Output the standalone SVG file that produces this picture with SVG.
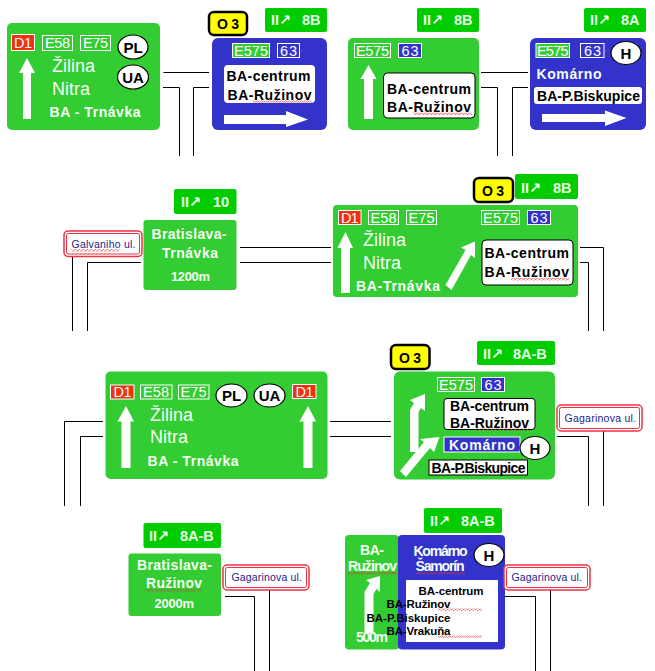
<svg xmlns="http://www.w3.org/2000/svg" width="655" height="671" viewBox="0 0 655 671">
<style>
text{font-family:"Liberation Sans",Arial,sans-serif}
.g{fill:#33cc33}.bl{fill:#3333cc}
.tag{fill:#00cc00}
.o3{fill:#ffff00;stroke:#000;stroke-width:2.5}
.o3t{font-size:14px;font-weight:bold;fill:#000}
.tt{font-size:14.5px;font-weight:bold;fill:#e8ffe8;font-family:"Liberation Sans","DejaVu Sans",sans-serif}
.road{font-size:14.5px;fill:#fff}
.rb{stroke:#fff;stroke-width:1}
.r{fill:#ee3311}.eg{fill:#33cc33}.eb{fill:#3333cc}
.city{font-size:18px;fill:#f4fff4}
.wb{font-size:14px;font-weight:bold;fill:#f4fff4}
.kb{font-size:14px;font-weight:bold;fill:#000}
.sm{font-size:11.5px;font-weight:bold;fill:#000}
.box{fill:#fff}.boxk{fill:#fff;stroke:#000;stroke-width:1}
.ov{fill:#fff;stroke:#000;stroke-width:1.2}
.ovt{font-size:15px;font-weight:bold;fill:#000;text-anchor:middle}
.arr{fill:#fff}
.st{fill:none;stroke:#fff}
.sq{fill:url(#sq)}
.out{fill:#fff;stroke:#ee3344;stroke-width:1.5}
.inn{fill:#fff;stroke:#ee3344;stroke-width:1}
.lab{font-size:10.5px;fill:#22228a}
#connectors path{fill:none;stroke:#000;stroke-width:1}
</style>
<defs>
<pattern id="sq" width="4" height="2.5" patternUnits="userSpaceOnUse"><path d="M0 2L1 .5L2 .5L3 2L4 2" fill="none" stroke="#dd3333" stroke-width=".7"/></pattern>
</defs>
<rect width="655" height="671" fill="#fff"/>
<g id="connectors">
<path d="M163.500 72.500H209M163 87.500H179.500V156M209 87.500H193.500V156"/>
<path d="M481 72.500H528M481 87.500H497.500V156M528 87.500H512.500V156"/>
<path d="M240 247.500H331M240 262.500H331M141 262.500H87.500V331M72.500 255V331"/>
<path d="M580 247.500H603.500V331M580 262.500H588.500V331"/>
<path d="M103 421.500H64.500V506M103 436.500H80.500V506"/>
<path d="M330 421.500H391M330 436.500H391"/>
<path d="M557 436.500H588.500V506M603.500 431V506"/>
<path d="M225 596.500H254.500V671M269.500 589V671"/>
<path d="M505 596.500H535.500V671M550.500 589V671"/>
</g>

<g id="sign-1">
<rect class="g" x="7" y="23" width="153" height="107" rx="5"/>
<rect class="r rb" x="11.500" y="34.500" width="23" height="16"/><text class="road" x="14" y="48" textLength="18">D1</text>
<rect class="eg rb" x="42.500" y="35.500" width="30" height="15"/><text class="road" x="45" y="48" textLength="25">E58</text>
<rect class="eg rb" x="80.500" y="35.500" width="30" height="15"/><text class="road" x="83" y="48" textLength="25">E75</text>
<ellipse class="ov" cx="133" cy="47" rx="15" ry="12"/><text class="ovt" x="133" y="52.500">PL</text>
<ellipse class="ov" cx="133" cy="77" rx="15.500" ry="12"/><text class="ovt" x="133" y="82.500">UA</text>
<path class="arr" d="M27 58L35 73H31V119H23V73H19Z"/>
<text class="city" x="52" y="72">Žilina</text>
<text class="city" x="52" y="95">Nitra</text>
<text class="wb" x="49.500" y="117" textLength="91">BA - Trnávka</text>
</g>

<g id="sign-2">
<rect class="o3" x="209" y="12" width="38" height="23" rx="5"/><text class="o3t" x="217" y="29" textLength="22">O 3</text>
<rect class="tag" x="265" y="8" width="62" height="24" rx="2"/><text class="tt"><tspan x="271" y="25">II↗</tspan><tspan x="302" y="25">8B</tspan></text>
<rect class="bl" x="212" y="38" width="115" height="92" rx="6"/>
<rect class="eg rb" x="232.500" y="43.500" width="37" height="14"/><text class="road" x="234" y="55.500" textLength="34">E575</text>
<rect class="eb rb" x="277.500" y="43.500" width="22" height="14"/><text class="road" x="280" y="55.500" textLength="17">63</text>
<rect class="box" x="224" y="65" width="91" height="38" rx="4"/>
<text class="kb" x="226.500" y="81" textLength="84">BA-centrum</text>
<text class="kb" x="227.500" y="100" textLength="84">BA-Ružinov</text>
<rect class="sq" x="253" y="100.500" width="59" height="2.500"/>
<path class="arr" d="M224 115H286V111L308 119.500L286 127V124H224Z"/>
</g>

<g id="sign-3">
<rect class="tag" x="417" y="8" width="62" height="24" rx="2"/><text class="tt"><tspan x="423" y="25">II↗</tspan><tspan x="454" y="25">8B</tspan></text>
<rect class="g" x="348" y="38" width="131" height="92" rx="5"/>
<rect class="eg rb" x="354.500" y="43.500" width="36" height="14"/><text class="road" x="356" y="55.500" textLength="33">E575</text>
<rect class="eb rb" x="398.500" y="43.500" width="23" height="14"/><text class="road" x="401.500" y="55.500" textLength="17">63</text>
<path class="arr" d="M368.500 65L376.500 79H373V119H364V79H360.500Z"/>
<rect class="boxk" x="383.500" y="73" width="91.500" height="45" rx="4"/>
<text class="kb" x="387" y="94" textLength="84">BA-centrum</text>
<text class="kb" x="387" y="112" textLength="84">BA-Ružinov</text>
<rect class="sq" x="413" y="112.500" width="59" height="2.500"/>
</g>

<g id="sign-4">
<rect class="tag" x="584" y="8" width="62" height="24" rx="2"/><text class="tt"><tspan x="590" y="25">II↗</tspan><tspan x="621" y="25">8A</tspan></text>
<rect class="bl" x="530" y="38" width="116" height="92" rx="6"/>
<rect class="eg rb" x="536" y="43.500" width="33.500" height="14"/><text class="road" x="537" y="55.500" textLength="31.500">E575</text>
<rect class="eb rb" x="580.500" y="43.500" width="23.500" height="14"/><text class="road" x="584" y="55.500" textLength="17">63</text>
<ellipse class="ov" cx="626" cy="53" rx="15" ry="11.500"/><text class="ovt" x="626" y="59">H</text>
<text class="wb" x="536.500" y="79" textLength="65">Komárno</text>
<rect class="box" x="534" y="87" width="108" height="17" rx="3"/>
<text class="kb" x="537" y="101" textLength="103">BA-P.Biskupice</text>
<path class="arr" d="M542 114H605V110.500L626.500 118L605 126V122H542Z"/>
</g>

<g id="sign-5">
<rect class="tag" x="174" y="189" width="62.500" height="25" rx="2"/><text class="tt"><tspan x="181" y="207">II↗</tspan><tspan x="213" y="207">10</tspan></text>
<rect class="g" x="143.500" y="220" width="93" height="70" rx="3"/>
<text class="wb" x="151.500" y="239" textLength="75">Bratislava-</text>
<text class="wb" x="162" y="258" textLength="56">Trnávka</text>
<text class="wb" style="font-size:13px" x="171" y="281" textLength="39">1200m</text>
</g>

<g id="label-galvaniho">
<rect class="out" x="64" y="231" width="78" height="25.500" rx="4"/>
<rect class="inn" x="66.500" y="233.500" width="73" height="20.500" rx="2"/>
<text class="lab" x="71.500" y="248" textLength="64">Galvaniho ul.</text>
<rect class="sq" x="71.500" y="249" width="48" height="2.500"/>
</g>

<g id="sign-6">
<rect class="o3" x="474" y="178" width="39" height="24" rx="5"/><text class="o3t" x="482" y="196" textLength="22">O 3</text>
<rect class="tag" x="515" y="174" width="63" height="25" rx="2"/><text class="tt"><tspan x="521" y="193">II↗</tspan><tspan x="553" y="193">8B</tspan></text>
<rect class="g" x="333" y="205" width="245" height="92" rx="4"/>
<rect class="r rb" x="338.500" y="210.500" width="22.500" height="14"/><text class="road" x="341" y="223" textLength="17.500">D1</text>
<rect class="eg rb" x="368.500" y="210.500" width="30" height="14"/><text class="road" x="370.500" y="223" textLength="26">E58</text>
<rect class="eg rb" x="406.500" y="210.500" width="30" height="14"/><text class="road" x="408.500" y="223" textLength="26">E75</text>
<rect class="eg rb" x="481.500" y="210.500" width="38" height="14"/><text class="road" x="483" y="223" textLength="35">E575</text>
<rect class="eb rb" x="527.500" y="210.500" width="23" height="14"/><text class="road" x="530.500" y="223" textLength="17">63</text>
<path class="arr" d="M345.500 232L353 248H350V293H341V248H337.500Z"/>
<text class="city" x="363" y="246">Žilina</text>
<text class="city" x="363" y="269">Nitra</text>
<text class="wb" x="356" y="291" textLength="84">BA-Trnávka</text>
<path class="arr" d="M445.500 285L465.500 250L461 247.500L475 241.500L475 258L471 255L451.500 290Z"/>
<rect class="boxk" x="482" y="240" width="91" height="45" rx="4"/>
<text class="kb" x="484.500" y="258" textLength="84.500">BA-centrum</text>
<text class="kb" x="484.500" y="277" textLength="84.500">BA-Ružinov</text>
<rect class="sq" x="511" y="278" width="58" height="2.500"/>
</g>

<g id="sign-7">
<rect class="g" x="105.500" y="371.500" width="222" height="107.500" rx="5"/>
<rect class="r rb" x="110.500" y="385" width="23.500" height="14"/><text class="road" x="113.500" y="397" textLength="18">D1</text>
<rect class="eg rb" x="140.500" y="385" width="31.500" height="14"/><text class="road" x="143" y="397" textLength="26">E58</text>
<rect class="eg rb" x="178.500" y="385" width="30.500" height="14"/><text class="road" x="180.500" y="397" textLength="26">E75</text>
<ellipse class="ov" cx="231.500" cy="395.500" rx="15.500" ry="11.500"/><text class="ovt" x="231.500" y="401">PL</text>
<ellipse class="ov" cx="269.500" cy="395.500" rx="15.500" ry="11.500"/><text class="ovt" x="269.500" y="401">UA</text>
<rect class="r rb" x="292.500" y="384.500" width="23.500" height="14"/><text class="road" x="295.500" y="396.500" textLength="18">D1</text>
<path class="arr" d="M126 406L134 421.500H130.500V468H121.500V421.500H117.500Z"/>
<path class="arr" d="M308 406L316 421.500H312.500V468H303.500V421.500H299.500Z"/>
<text class="city" x="150" y="421">Žilina</text>
<text class="city" x="150" y="443">Nitra</text>
<text class="wb" x="147.500" y="466" textLength="91">BA - Trnávka</text>
</g>

<g id="sign-8">
<rect class="o3" x="391" y="345" width="38.500" height="24" rx="5"/><text class="o3t" x="399" y="362.500" textLength="22">O 3</text>
<rect class="tag" x="477" y="341" width="78" height="24" rx="2"/><text class="tt"><tspan x="483" y="359">II↗</tspan><tspan x="513" y="359">8A-B</tspan></text>
<rect class="g" x="394" y="371.500" width="161" height="108" rx="6"/>
<rect class="eg rb" x="437.500" y="377.500" width="37" height="14"/><text class="road" x="439" y="389.500" textLength="34">E575</text>
<rect class="eb rb" x="481.500" y="377.500" width="23" height="14"/><text class="road" x="484.500" y="389.500" textLength="17">63</text>
<path class="arr" d="M425 394L425 411L421 408L418.500 412V452H410V410L414 403L410 400Z"/>
<path class="arr" d="M439.500 437L434 452L430 448L406 477L400 471L424 442L420 439Z"/>
<rect class="boxk" x="444" y="398.500" width="91" height="31" rx="3"/>
<text class="kb" x="450" y="411" textLength="79">BA-centrum</text>
<text class="kb" x="450" y="428" textLength="79">BA-Ružinov</text>
<rect class="sq" x="475" y="428.500" width="55" height="2.500"/>
<rect class="eb" x="444" y="437" width="76" height="15" stroke="#fff" stroke-width="1"/>
<text class="wb" x="449" y="450" textLength="66">Komárno</text>
<ellipse class="ov" cx="535" cy="448" rx="15" ry="11.500"/><text class="ovt" x="535" y="454">H</text>
<rect class="boxk" x="429" y="460" width="98.500" height="15"/>
<text class="kb" x="431.500" y="473" textLength="94">BA-P.Biskupice</text>
</g>

<g id="label-gagarinova-1">
<rect class="out" x="557" y="405" width="85" height="26" rx="4"/>
<rect class="inn" x="559.500" y="407.500" width="80" height="21" rx="2"/>
<text class="lab" x="564.500" y="422" textLength="71.500">Gagarinova ul.</text>
</g>

<g id="sign-9">
<rect class="tag" x="143.500" y="523" width="77.500" height="25" rx="2"/><text class="tt"><tspan x="149" y="541">II↗</tspan><tspan x="180" y="541">8A-B</tspan></text>
<rect class="g" x="128.500" y="553.500" width="92.500" height="62.500" rx="3"/>
<text class="wb" x="137" y="570" textLength="75">Bratislava-</text>
<text class="wb" x="146" y="588" textLength="56">Ružinov</text>
<rect class="sq" x="145" y="589" width="57" height="2.500"/>
<text class="wb" style="font-size:13px" x="154.500" y="608" textLength="39.500">2000m</text>
</g>

<g id="label-gagarinova-2">
<rect class="out" x="223" y="565" width="86" height="25" rx="4"/>
<rect class="inn" x="225.500" y="567.500" width="81" height="20" rx="2"/>
<text class="lab" x="231.500" y="581" textLength="70.500">Gagarinova ul.</text>
</g>

<g id="sign-10">
<rect class="tag" x="424" y="508" width="78" height="25" rx="2"/><text class="tt"><tspan x="430" y="526">II↗</tspan><tspan x="461" y="526">8A-B</tspan></text>
<rect class="g" x="345" y="535" width="54" height="114.500" rx="4"/>
<rect class="bl" x="398" y="535" width="107" height="114.500" rx="4"/>
<text class="wb" x="360" y="555" textLength="24">BA-</text>
<text class="wb" x="348" y="571" textLength="49">Ružinov</text>
<rect class="sq" x="348" y="572" width="49" height="2.500"/>
<path class="arr" d="M380 576L380 592L376.500 589L373.500 594V633H364.500V592L370 583L366 580Z"/>
<text class="wb" x="356" y="642" textLength="32">500m</text>
<text class="wb" x="413.500" y="556" textLength="54">Komárno</text>
<text class="wb" x="415.500" y="571" textLength="49">Šamorín</text>
<rect class="sq" x="416" y="572" width="49" height="2.500"/>
<ellipse class="ov" cx="489" cy="555" rx="15" ry="11.500"/><text class="ovt" x="489" y="561">H</text>
<rect class="box" x="406" y="580" width="92" height="62"/>
<g text-anchor="middle">
<text class="sm" x="451" y="595" textLength="65" text-anchor="start" dx="-32.500">BA-centrum</text>
<text class="sm" x="418.500" y="608" textLength="64">BA-Ružinov</text>
<text class="sm" x="408.500" y="622" textLength="84">BA-P.Biskupice</text>
<text class="sm" x="418.500" y="635" textLength="64">BA-Vrakuňa</text>
</g>
<rect class="sq" x="438" y="608.500" width="44" height="2.500"/>
<rect class="sq" x="438" y="635.500" width="44" height="2.500"/>
</g>

<g id="label-gagarinova-3">
<rect class="out" x="504" y="565" width="86" height="25" rx="4"/>
<rect class="inn" x="506.500" y="567.500" width="81" height="20" rx="2"/>
<text class="lab" x="511.500" y="581" textLength="70.500">Gagarinova ul.</text>
</g>
</svg>
